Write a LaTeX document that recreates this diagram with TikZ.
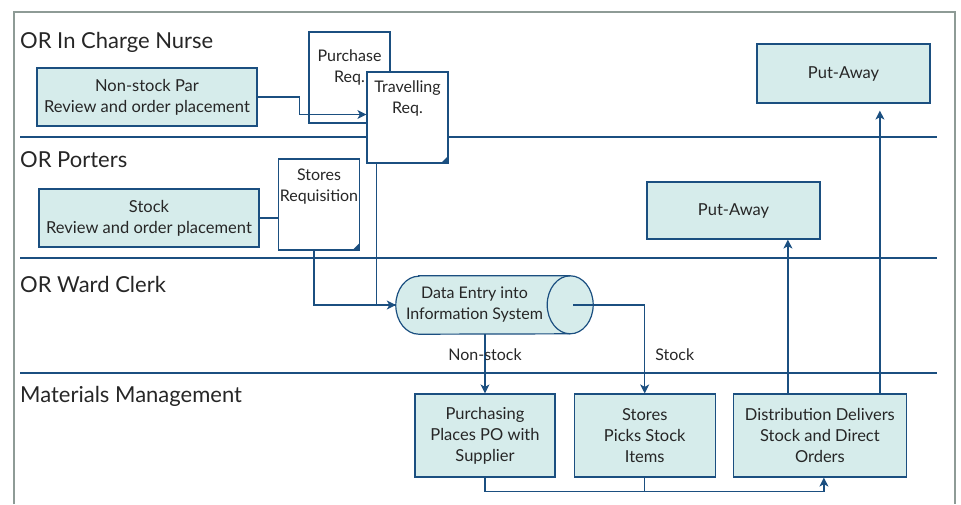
\documentclass[tikz,border=0pt]{standalone}
\usepackage{fontspec}
\setmainfont{Lato}
\usepackage{xcolor}
\usetikzlibrary{shapes,arrows.meta,positioning}
\definecolor{laneblue}{HTML}{1B4F80}
\definecolor{boxfill}{HTML}{D6ECEB}
\definecolor{framegray}{HTML}{8E9B96}
\definecolor{inkgray}{HTML}{262626}
\tikzset{task box/.style={rectangle,draw=laneblue,fill=boxfill,line width=1.2pt,align=center,text=inkgray,font=\fontsize{16.5}{21}\selectfont,inner sep=0pt},
doc box/.style={rectangle,draw=laneblue,fill=white,line width=1.2pt,minimum width=81pt,minimum height=91pt,inner sep=0pt,
  path picture={\fill[laneblue] (path picture bounding box.south east) -- ++(-7pt,0) -- ++(7pt,7pt) -- cycle;}},
doc text/.style={align=center,text=inkgray,font=\fontsize{16}{21}\selectfont,inner sep=0pt},
lane title/.style={anchor=base west,text=inkgray,font=\fontsize{22}{26}\selectfont,inner sep=0pt},
lane line/.style={draw=laneblue,line width=1.2pt},
drum end/.style={x radius=23pt,y radius=29pt},}
\tikzstyle{arrow} = [line width=1.2pt,draw=laneblue,->,>={Stealth[length=9pt,width=9pt,inset=2.5pt]}]
\tikzstyle{link} = [line width=1.2pt,draw=laneblue]

\begin{document}
\begin{tikzpicture}[x=1pt,y=-1pt]
    \useasboundingbox (0,0) rectangle (961,504);
    \draw[framegray,line width=1.3pt] (14,504) -- (14,12) -- (955,12) -- (955,504);
    \foreach \y in {137,258,373} \draw[lane line] (20,\y) -- (937,\y);

    \node[lane title] (nurse) at (20,48) {OR In Charge Nurse};
    \node[lane title] (porters) at (20,167) {OR Porters};
    \node[lane title] (clerk) at (20,292) {OR Ward Clerk};
    \node[lane title] (matman) at (20,402) {Materials Management};

    \node[task box,minimum width=220pt,minimum height=58pt] (nsp) at (147,97) {Non-stock Par\\Review and order placement};
    \node[task box,minimum width=220pt,minimum height=58pt] (skr) at (149,218) {Stock\\Review and order placement};
    \node[task box,minimum width=173pt,minimum height=59pt] (pa1) at (843.5,73.5) {Put-Away};
    \node[task box,minimum width=173pt,minimum height=57pt] (pa2) at (733.5,210.5) {Put-Away};

    \node[doc box] (purq) at (349.5,77.5) {};
    \node[doc text,below=18pt of purq.north] (purqtxt) {Purchase\\Req.};
    \node[doc box] (trq) at (407.5,117.5) {};
    \node[doc text,below=9pt of trq.north] (trqtxt) {Travelling\\Req.};
    \node[doc box] (srq) at (319,204.5) {};
    \node[doc text,below=10pt of srq.north] (srqtxt) {Stores\\Requisition};

    % data entry drum
    \node[minimum width=197pt,minimum height=58pt,inner sep=0pt] (dataent) at (494.5,305) {};
    \filldraw[draw=laneblue,fill=boxfill,line width=1.2pt] ([xshift=23pt]dataent.north west) -- ([xshift=-23pt]dataent.north east)
        arc[start angle=90,end angle=-90,drum end] -- ([xshift=23pt]dataent.south west)
        arc[start angle=270,end angle=90,drum end] -- cycle;
    \draw[laneblue,line width=1.2pt] ([xshift=-23pt]dataent.north east) arc[start angle=90,end angle=270,drum end];
    \node[doc text] (detxt) at ([xshift=-20pt]dataent.center) {Data Entry into\\Information System};

    \node[task box,minimum width=140pt,minimum height=83pt] (pur) at (485,435.5) {Purchasing\\Places PO with\\Supplier};
    \node[task box,minimum width=141pt,minimum height=83pt,right=18pt of pur] (sto) {Stores\\Picks Stock\\Items};
    \node[task box,minimum width=173pt,minimum height=83pt,right=17pt of sto] (dis) {Distribution Delivers\\Stock and Direct\\Orders};

    \coordinate (up1) at ([xshift=-32pt]dis.north);
    \coordinate (up2) at ([xshift=60pt]dis.north);
    \coordinate (up2top) at ([yshift=-7pt]pa1.south);

    \draw[arrow] (nsp.east) -- ++(42,0) |- ([yshift=3pt]trq.west);
    \draw[link] (skr.east) -- (skr.east -| srq.west);
    \draw[link] ([xshift=-5pt]srq.south) |- (dataent.west);
    \draw[arrow] ([xshift=10pt]trq.south west) |- (dataent.west);
    \draw[arrow] (dataent.south -| pur.north) -- node[pos=0.35,doc text] (nslbl) {Non-stock} (pur.north);
    \draw[arrow] ([xshift=-20pt]dataent.east) -| node[pos=0.78,anchor=west,xshift=10pt,doc text] (stlbl) {Stock} (sto.north);
    \draw[link] (sto.south) -- ++(0,14);
    \draw[arrow] (pur.south) -- ++(0,14) -| ([xshift=4pt]dis.south);
    \draw[arrow] (up1) -- (up1 |- pa2.south);
    \draw[arrow] (up2) -- (up2 |- up2top);
\end{tikzpicture}
\end{document}
